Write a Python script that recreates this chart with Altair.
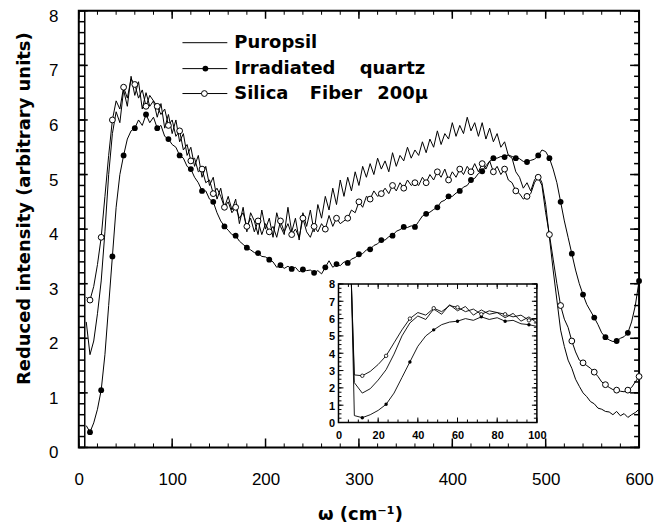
import altair as alt
import pandas as pd

# ---------------- data ----------------
X = list(range(8, 601, 4))  # wavenumber, cm^-1

PUROPSIL = [
    2.3, 1.7, 1.95, 2.45, 3.05, 3.95, 5.0, 5.75, 6.15, 5.95,
    6.55, 6.25, 6.8, 6.45, 6.7, 6.2, 6.5, 6.25, 6.35, 6.05,
    6.3, 5.85, 6.1, 5.75, 6.0, 5.6, 5.75, 5.35, 5.5, 5.15,
    5.35, 4.95, 5.15, 4.8, 4.95, 4.55, 4.75, 4.4, 4.6, 4.35,
    4.55, 4.1, 4.4, 3.95, 4.3, 4.15, 3.9, 4.35, 4.0, 4.2,
    3.85, 4.3, 4.05, 3.9, 4.4, 3.95, 4.2, 3.8, 4.3, 4.05,
    4.35, 3.95, 4.45, 4.2, 4.6, 4.35, 4.75, 4.45, 4.9, 4.6,
    4.95, 4.7, 5.05, 4.8, 5.15, 4.95, 5.2, 5.0, 5.3, 5.1,
    5.25, 5.05, 5.4, 5.15, 5.35, 5.25, 5.5, 5.3, 5.45, 5.35,
    5.6, 5.4, 5.65, 5.5, 5.8, 5.55, 5.75, 5.65, 5.95, 5.7,
    5.9, 5.75, 6.05, 5.8, 5.95, 5.7, 5.95, 5.65, 5.85, 5.6,
    5.75, 5.5, 5.6, 5.35, 5.3, 5.05, 4.95, 4.75, 4.85, 4.7,
    4.9, 5.0, 4.85, 4.45, 3.85, 3.25, 2.7, 2.15, 1.85, 1.6,
    1.45, 1.25, 1.12, 1.0, 0.93, 0.84, 0.8, 0.72, 0.7, 0.66,
    0.65, 0.6, 0.66, 0.58, 0.62, 0.55, 0.6, 0.64, 0.7,
]

IRRADIATED = [
    0.4, 0.28, 0.45, 0.7, 1.05, 1.7, 2.6, 3.5, 4.4, 5.0,
    5.35, 5.65, 5.8, 5.85, 6.0, 5.9, 6.1, 5.95, 6.05, 5.85,
    5.9, 5.7, 5.65, 5.55, 5.5, 5.35, 5.3, 5.15, 5.1, 4.95,
    4.85, 4.7, 4.7, 4.55, 4.5, 4.3, 4.15, 4.05, 3.98, 3.9,
    3.88, 3.78, 3.72, 3.66, 3.62, 3.57, 3.56, 3.5, 3.49, 3.44,
    3.4, 3.3, 3.34, 3.28, 3.32, 3.27, 3.3, 3.22, 3.26, 3.24,
    3.25, 3.2, 3.24, 3.18, 3.3, 3.42, 3.3, 3.36, 3.33, 3.4,
    3.38, 3.45, 3.48, 3.54, 3.55, 3.62, 3.63, 3.7, 3.73, 3.8,
    3.8, 3.86, 3.88, 3.96, 3.99, 4.04, 4.03, 4.06, 4.04, 4.14,
    4.24, 4.28, 4.31, 4.36, 4.4, 4.5, 4.53, 4.6, 4.6, 4.66,
    4.7, 4.77, 4.8, 4.9, 4.93, 5.02, 5.06, 5.16, 5.24, 5.3,
    5.3, 5.33, 5.32, 5.36, 5.33, 5.3, 5.29, 5.24, 5.23, 5.26,
    5.28, 5.35, 5.45, 5.42, 5.3, 5.1, 4.85, 4.5, 4.15, 3.85,
    3.55, 3.25, 3.0, 2.8, 2.62, 2.5, 2.38, 2.25, 2.1, 2.02,
    1.97, 1.94, 1.95, 2.0, 2.03, 2.1, 2.3, 2.6, 3.05,
]

SILICA = [
    2.75, 2.7, 2.95, 3.35, 3.85, 4.6, 5.35, 6.0, 6.35, 6.2,
    6.6, 6.4, 6.75, 6.65, 6.4, 6.55, 6.25, 6.45, 6.35, 6.25,
    6.1, 6.2, 5.9, 6.0, 5.7, 5.8, 5.45, 5.55, 5.25, 5.3,
    5.05, 5.1, 4.85, 4.9, 4.65, 4.75, 4.6, 4.4, 4.5, 4.3,
    4.4, 4.2, 4.3, 4.05, 4.2, 3.95, 4.15, 3.9, 4.1, 3.95,
    4.05, 3.85, 4.15, 3.95, 4.1, 3.9, 4.0, 3.85, 4.2, 3.95,
    3.85, 4.05, 3.95, 4.1, 4.0, 4.25, 4.05, 4.2, 4.1, 4.15,
    4.2, 4.35, 4.3, 4.5, 4.4, 4.6, 4.55, 4.7, 4.6, 4.65,
    4.75, 4.65, 4.8, 4.7, 4.85, 4.75, 4.9, 4.8, 4.85, 4.8,
    4.95, 4.85, 5.0, 4.9, 5.05, 4.95, 5.1, 4.9, 5.05, 4.95,
    5.1, 5.0, 5.15, 5.05, 5.2, 5.05, 5.2, 5.1, 5.25, 5.05,
    5.15, 5.0, 5.1, 4.9, 4.85, 4.7, 4.65, 4.55, 4.6, 4.65,
    4.85, 4.95, 4.8, 4.3, 3.9, 3.45, 3.0, 2.6, 2.35, 2.2,
    1.95, 1.75, 1.6, 1.55, 1.5, 1.45, 1.38, 1.3, 1.2, 1.15,
    1.1, 1.06, 1.05, 1.03, 1.02, 1.05, 1.1, 1.2, 1.3,
]

SERIES = ["Puropsil", "Irradiated\u2003\u00a0quartz", "Silica\u2002\u00a0\u00a0Fiber\u2002\u00a0200\u03bc"]
MARK_EVERY = 3          # a marker on every 3rd sample
INSET_SPIKE = (6.5, 8.0)  # all inset curves start from the top at ~6.5 cm^-1
INSET_MAX_X = 100

X_DOMAIN, Y_DOMAIN = [0, 600], [0, 8]
X_TICKS = [0, 100, 200, 300, 400, 500, 600]
X_MINOR = list(range(0, 601, 20))
Y_TICKS = [0, 1, 2, 3, 4, 5, 6, 7, 8]
Y_MINOR = [round(i * 0.2, 1) for i in range(41)]

IN_X_DOMAIN, IN_Y_DOMAIN = [0, 100], [0, 8]
IN_X_TICKS = [0, 20, 40, 60, 80, 100]
IN_X_MINOR = list(range(0, 101, 5))
IN_Y_TICKS = [0, 1, 2, 3, 4, 5, 6, 7, 8]
IN_Y_MINOR = [i * 0.25 for i in range(33)]

# ---------------- layout ----------------
W, H = 562, 438
IN_X_RANGE = [260.5, 459.5]
IN_Y_RANGE = [413, 274]

rows = []
for name, vals in zip(SERIES, [PUROPSIL, IRRADIATED, SILICA]):
    for i, (xv, yv) in enumerate(zip(X, vals)):
        rows.append({"x": xv, "y": yv, "series": name, "idx": i})
df = pd.DataFrame(rows)
q_marks = df[(df.series == SERIES[1]) & (df.idx % MARK_EVERY == 1)]
s_marks = df[(df.series == SERIES[2]) & (df.idx % MARK_EVERY == 1)]

spike = pd.DataFrame({"x": [INSET_SPIKE[0]] * 3, "y": [INSET_SPIKE[1]] * 3,
                      "series": SERIES, "idx": [-1] * 3})
df_in = pd.concat([spike, df[df.x <= INSET_MAX_X]], ignore_index=True)
q_in = q_marks[q_marks.x <= INSET_MAX_X]
s_in = s_marks[s_marks.x <= INSET_MAX_X]

xs = alt.Scale(domain=X_DOMAIN, nice=False, zero=False)
ys = alt.Scale(domain=Y_DOMAIN, nice=False, zero=False)
ixs = alt.Scale(domain=IN_X_DOMAIN, range=IN_X_RANGE, nice=False, zero=False)
iys = alt.Scale(domain=IN_Y_DOMAIN, range=IN_Y_RANGE, nice=False, zero=False)

LABEL_FONT = "Liberation Sans"
TITLE_FONT = "DejaVu Sans"

ax_x = alt.Axis(values=X_TICKS, title="\u03c9 (cm\u207b\u00b9)", orient="bottom", ticks=False, tickSize=0,
                domain=False, grid=False, labelPadding=24, labelFlush=False, labelOverlap=False,
                labelFont=LABEL_FONT, labelFontSize=17, labelColor="black", format="d",
                titleFont=TITLE_FONT, titleFontSize=18, titleFontWeight="bold", titleColor="black",
                titleX=282, titleY=67, titleAlign="center", titleBaseline="middle", zindex=2)
ax_y = alt.Axis(values=Y_TICKS, title="Reduced intensity (arbitrary units)", orient="left", ticks=False,
                tickSize=0, domain=False, grid=False, labelPadding=21, labelOffset=5.5, labelFlush=False,
                labelOverlap=False, labelFont=LABEL_FONT, labelFontSize=17, labelColor="black", format="d",
                titleFont=TITLE_FONT, titleFontSize=18, titleFontWeight="bold", titleColor="black",
                titleX=-54, titleY=198, titleAngle=270, titleAlign="center", titleBaseline="middle", zindex=2)
iax_x = alt.Axis(values=IN_X_TICKS, title=None, orient="bottom", offset=-(H - IN_Y_RANGE[0]), ticks=False,
                 tickSize=0, domain=False, grid=False, labelPadding=7, labelFlush=False, labelOverlap=False,
                 labelFont=LABEL_FONT, labelFontSize=11, labelFontWeight="bold", labelColor="black", format="d",
                 zindex=2)
iax_y = alt.Axis(values=IN_Y_TICKS, title=None, orient="left", offset=-IN_X_RANGE[0], ticks=False,
                 tickSize=0, domain=False, grid=False, labelPadding=4, labelOffset=1, labelFlush=False,
                 labelOverlap=False, labelFont=LABEL_FONT, labelFontSize=11, labelFontWeight="bold",
                 labelColor="black", format="d", zindex=2)


def tick_layer(vals, side, length, xsc, ysc, xdom, ydom, sw=1.0):
    d = pd.DataFrame({"t": vals})
    if side in ("bottom", "top"):
        y0 = ydom[0] if side == "bottom" else ydom[1]
        off = -length if side == "bottom" else length
        return alt.Chart(d).mark_rule(color="black", strokeWidth=sw, y2Offset=off).encode(
            x=alt.X("t:Q", scale=xsc, axis=None),
            y=alt.YDatum(y0, scale=ysc, axis=None),
            y2=alt.Y2Datum(y0))
    x0 = xdom[0] if side == "left" else xdom[1]
    off = length if side == "left" else -length
    return alt.Chart(d).mark_rule(color="black", strokeWidth=sw, x2Offset=off).encode(
        y=alt.Y("t:Q", scale=ysc, axis=None),
        x=alt.XDatum(x0, scale=xsc, axis=None),
        x2=alt.X2Datum(x0))


# ---------------- main panel ----------------
lines = alt.Chart(df).mark_line(color="black", strokeWidth=1).encode(
    x=alt.X("x:Q", scale=xs, axis=ax_x),
    y=alt.Y("y:Q", scale=ys, axis=ax_y),
    detail="series:N", order="x:Q")
q_pts = alt.Chart(q_marks).mark_point(filled=True, color="black", size=34, opacity=1).encode(
    x=alt.X("x:Q", scale=xs, axis=None), y=alt.Y("y:Q", scale=ys, axis=None))
s_pts = alt.Chart(s_marks).mark_point(filled=True, fill="white", stroke="black", strokeWidth=1,
                                      size=34, opacity=1).encode(
    x=alt.X("x:Q", scale=xs, axis=None), y=alt.Y("y:Q", scale=ys, axis=None))

main_ticks = [
    tick_layer(X_MINOR, "bottom", 4, xs, ys, X_DOMAIN, Y_DOMAIN),
    tick_layer(X_TICKS, "bottom", 9, xs, ys, X_DOMAIN, Y_DOMAIN, 1.5),
    tick_layer(X_MINOR, "top", 4, xs, ys, X_DOMAIN, Y_DOMAIN),
    tick_layer(X_TICKS, "top", 8, xs, ys, X_DOMAIN, Y_DOMAIN, 1.5),
    tick_layer(Y_MINOR, "left", 6, xs, ys, X_DOMAIN, Y_DOMAIN, 1.5),
    tick_layer(Y_TICKS, "left", 9, xs, ys, X_DOMAIN, Y_DOMAIN, 1.5),
    tick_layer(Y_MINOR, "right", 5, xs, ys, X_DOMAIN, Y_DOMAIN, 1.5),
    tick_layer(Y_TICKS, "right", 9, xs, ys, X_DOMAIN, Y_DOMAIN, 1.5),
]
ladder = alt.Chart(pd.DataFrame({"a": [0]})).mark_rule(color="black", strokeWidth=1.5, xOffset=6).encode(
    x=alt.XDatum(X_DOMAIN[0], scale=xs, axis=None),
    y=alt.YDatum(Y_DOMAIN[0], scale=ys, axis=None),
    y2=alt.Y2Datum(Y_DOMAIN[1]))

# legend (hand placed, inside the plot)
LEG_Y = [32, 58, 83]
legend = []
for i, name in enumerate(SERIES):
    legend.append(alt.Chart(pd.DataFrame({"a": [0]})).mark_rule(color="black", strokeWidth=1).encode(
        x=alt.value(104), x2=alt.value(149), y=alt.value(LEG_Y[i])))
    legend.append(alt.Chart(pd.DataFrame({"label": [name]})).mark_text(
        align="left", baseline="middle", font=TITLE_FONT, fontWeight="bold", fontSize=18, color="black").encode(
        x=alt.value(156), y=alt.value(LEG_Y[i]), text="label:N"))
legend.append(alt.Chart(pd.DataFrame({"a": [0]})).mark_point(filled=True, color="black", size=34, opacity=1)
              .encode(x=alt.value(127), y=alt.value(LEG_Y[1])))
legend.append(alt.Chart(pd.DataFrame({"a": [0]})).mark_point(filled=True, fill="white", stroke="black",
                                                             strokeWidth=1, size=34, opacity=1)
              .encode(x=alt.value(126), y=alt.value(LEG_Y[2])))

# ---------------- inset ----------------
bg = alt.Chart(pd.DataFrame({"a": [0]})).mark_rect(fill="white", stroke="black", strokeWidth=1.5).encode(
    x=alt.XDatum(IN_X_DOMAIN[0], scale=ixs, axis=None), x2=alt.X2Datum(IN_X_DOMAIN[1]),
    y=alt.YDatum(IN_Y_DOMAIN[0], scale=iys, axis=None), y2=alt.Y2Datum(IN_Y_DOMAIN[1]))
in_lines = alt.Chart(df_in).mark_line(color="black", strokeWidth=0.9).encode(
    x=alt.X("x:Q", scale=ixs, axis=iax_x),
    y=alt.Y("y:Q", scale=iys, axis=iax_y),
    detail="series:N", order="x:Q")
in_q = alt.Chart(q_in).mark_point(filled=True, color="black", size=12, opacity=1).encode(
    x=alt.X("x:Q", scale=ixs, axis=None), y=alt.Y("y:Q", scale=iys, axis=None))
in_s = alt.Chart(s_in).mark_point(filled=True, fill="white", stroke="black", strokeWidth=0.8,
                                  size=12, opacity=1).encode(
    x=alt.X("x:Q", scale=ixs, axis=None), y=alt.Y("y:Q", scale=iys, axis=None))
in_ticks = [
    tick_layer(IN_X_MINOR, "bottom", 3, ixs, iys, IN_X_DOMAIN, IN_Y_DOMAIN),
    tick_layer(IN_X_TICKS, "bottom", 5, ixs, iys, IN_X_DOMAIN, IN_Y_DOMAIN),
    tick_layer(IN_X_MINOR, "top", 3, ixs, iys, IN_X_DOMAIN, IN_Y_DOMAIN),
    tick_layer(IN_X_TICKS, "top", 5, ixs, iys, IN_X_DOMAIN, IN_Y_DOMAIN),
    tick_layer(IN_Y_MINOR, "left", 3, ixs, iys, IN_X_DOMAIN, IN_Y_DOMAIN),
    tick_layer(IN_Y_TICKS, "left", 5, ixs, iys, IN_X_DOMAIN, IN_Y_DOMAIN),
    tick_layer(IN_Y_MINOR, "right", 3, ixs, iys, IN_X_DOMAIN, IN_Y_DOMAIN),
    tick_layer(IN_Y_TICKS, "right", 5, ixs, iys, IN_X_DOMAIN, IN_Y_DOMAIN),
]

# one flat layer; every layer keeps its own (explicitly specified) scales
layers = [lines, q_pts, s_pts, ladder, *main_ticks, *legend, bg, in_lines, in_q, in_s, *in_ticks]

chart = (
    alt.layer(*layers)
    .resolve_scale(x="independent", y="independent")
    .resolve_axis(x="independent", y="independent")
    .properties(width=W, height=H, autosize=alt.AutoSizeParams(type="none"),
                padding={"left": 71, "top": 2, "right": 20, "bottom": 81}, background="white")
    .configure_view(stroke="black", strokeWidth=2)
)

chart.save("out.html", embed_options={"renderer": "svg", "actions": False})
